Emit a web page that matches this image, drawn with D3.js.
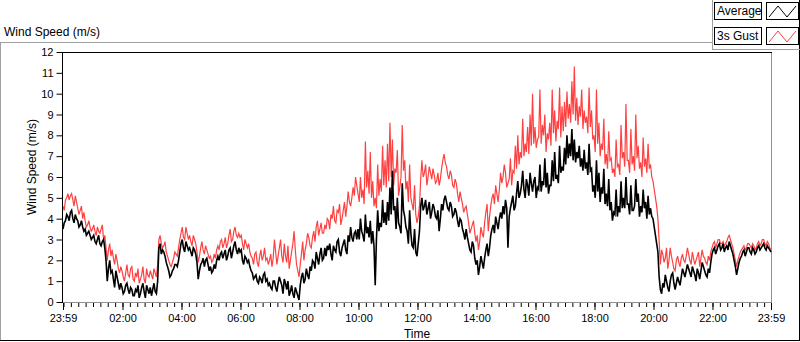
<!DOCTYPE html>
<html><head><meta charset="utf-8">
<script src="https://cdn.jsdelivr.net/npm/d3@7"></script>
<style>
html,body{margin:0;padding:0;background:#fff;}
svg text{font-family:"Liberation Sans",Arial,sans-serif;fill:#000;}
</style></head>
<body><svg id="chart" width="800" height="342"></svg>
<script>
// ---- data (2.5-minute samples starting 23:59, one row per hour) ----
const sampleStepMinutes = 2.5;
const averageSpeed = [
3.5,3.8,3.9,4.2,4.1,3.9,4.3,4.4,4.0,3.8,4.2,4.0,3.9,3.6,3.7,3.9,3.6,3.4,3.5,3.2,3.3,3.4,3.2,3.0,
3.1,3.2,2.9,2.8,3.0,3.2,2.8,2.7,2.9,3.0,2.6,2.0,1.0,1.6,2.0,1.4,1.5,1.1,0.7,1.5,1.2,0.9,0.6,0.9,
0.7,0.4,0.5,0.8,0.9,0.6,0.4,0.7,0.6,0.3,0.3,0.6,0.5,0.8,0.2,0.4,0.7,0.9,0.5,0.2,0.8,0.6,0.4,0.7,
0.3,0.6,0.9,0.5,0.4,1.0,2.6,2.8,2.3,2.5,2.4,2.2,1.9,1.7,1.5,1.2,1.3,1.5,1.6,1.8,1.8,1.7,2.0,2.4,
2.8,3.0,2.6,2.4,2.9,2.7,2.5,2.6,2.4,2.2,2.6,2.5,2.3,1.9,1.1,1.5,1.8,1.9,2.1,1.7,2.0,2.1,1.8,1.5,
1.7,1.4,1.5,1.8,1.6,2.0,2.2,2.0,2.3,2.4,2.1,2.3,2.5,2.0,2.2,2.5,2.6,2.1,2.4,2.7,2.9,2.5,2.3,2.6,
2.4,2.5,2.0,1.8,2.2,2.1,1.9,2.0,1.7,1.5,1.4,1.1,1.2,1.3,1.0,0.9,1.2,1.1,0.9,1.3,1.4,1.0,1.1,0.8,
0.9,0.7,0.6,1.0,1.0,0.7,0.5,0.9,1.2,1.0,0.8,0.4,1.1,0.9,0.6,1.0,0.3,0.5,0.8,0.4,0.2,0.7,0.5,0.3,
0.1,0.8,1.2,1.4,0.9,1.1,1.6,1.3,1.1,1.7,1.5,2.0,1.9,1.6,2.4,2.1,1.8,2.3,2.6,2.0,2.1,2.6,2.2,2.7,
2.5,2.8,2.3,2.0,2.7,2.5,2.4,2.9,3.0,2.4,2.2,2.6,2.8,3.0,2.5,2.3,3.2,2.9,3.6,3.1,2.9,3.3,3.4,3.0,
3.5,3.0,4.0,3.4,3.2,2.9,4.2,3.3,3.6,3.1,3.9,2.8,3.4,2.7,0.8,3.0,4.4,3.4,3.8,3.6,4.9,3.8,4.3,3.7,
4.8,3.9,5.5,4.2,6.3,4.4,4.6,3.5,5.0,3.8,3.6,3.3,5.7,4.4,4.1,3.6,3.4,2.8,4.4,3.3,2.7,2.6,3.5,2.4,
2.2,2.8,3.4,4.6,5.0,4.4,4.6,4.9,4.2,4.5,4.8,4.0,4.3,4.7,4.5,4.1,4.0,4.4,3.4,4.0,4.7,4.4,4.9,5.1,
4.8,4.5,4.4,4.8,4.6,4.1,4.2,4.5,4.3,3.9,3.6,4.0,3.9,3.5,3.3,3.0,3.5,3.1,2.8,2.5,2.4,2.9,2.7,2.1,
1.8,2.0,1.3,1.7,2.2,1.9,1.6,2.1,2.5,2.8,2.2,2.6,3.2,3.5,3.7,3.3,4.1,3.8,3.5,4.0,4.3,4.0,4.6,4.2,
4.9,4.5,2.6,4.1,4.5,4.8,5.1,4.4,4.6,5.2,5.8,5.0,5.2,5.6,6.3,5.4,5.0,5.9,5.6,5.1,6.2,5.7,5.3,5.8,
6.0,5.0,5.5,5.4,6.6,5.3,5.8,5.6,6.9,5.5,6.2,5.2,5.6,5.6,6.8,5.8,7.2,5.9,6.1,5.7,7.5,6.2,6.5,6.3,
7.4,6.6,8.0,6.9,7.6,7.0,8.3,6.8,7.8,6.7,7.2,6.9,7.5,6.5,6.9,6.3,7.3,6.4,6.7,6.1,7.6,6.3,6.4,5.3,
5.6,5.0,6.8,5.3,6.2,4.8,5.5,5.2,6.4,4.7,5.2,4.6,5.9,4.4,4.8,3.9,4.3,4.2,5.4,4.1,4.6,4.3,5.8,4.5,
5.0,4.5,6.0,4.7,4.7,4.2,5.6,4.4,4.4,4.6,5.9,4.8,5.2,4.1,4.6,4.3,5.4,4.5,4.8,4.0,5.1,4.2,4.5,4.1,
4.0,3.6,3.2,2.8,2.4,1.2,0.6,0.4,0.9,0.7,1.3,1.0,0.7,0.5,1.0,1.3,1.4,0.9,0.6,0.9,1.2,1.0,0.8,1.2,
1.6,1.4,1.2,1.5,1.8,1.6,1.4,1.2,1.7,1.5,1.3,1.0,1.6,1.4,1.1,1.5,1.9,1.7,1.5,1.3,1.2,1.6,1.4,1.9,
2.3,2.5,2.6,2.3,2.5,2.7,2.8,2.5,2.6,2.8,2.4,2.6,2.7,2.5,2.9,2.7,2.5,2.3,2.0,1.7,1.3,1.6,1.9,2.1,
2.2,2.4,2.5,2.2,2.4,2.6,2.6,2.4,2.3,2.6,2.5,2.3,2.4,2.6,2.7,2.5,2.6,2.7,2.8,2.6,2.5,2.7,2.6,2.5,
2.4];
const gustSpeed = [
4.6,4.4,4.9,5.0,5.2,4.9,5.1,5.2,4.9,4.6,5.1,4.8,4.5,4.2,4.4,4.6,4.0,4.3,3.9,3.6,3.7,3.9,3.6,3.4,
3.5,3.7,3.4,3.2,3.6,3.4,3.3,3.5,3.7,3.0,3.2,2.6,2.0,2.5,2.8,2.2,2.5,2.1,1.8,2.3,2.0,1.6,1.4,1.7,
1.5,1.2,1.0,1.4,1.8,1.3,1.2,1.6,1.7,1.1,1.0,1.4,1.2,1.6,0.9,1.1,1.3,1.7,1.1,0.9,1.6,1.3,1.2,1.5,
1.3,1.1,1.6,1.4,1.2,1.8,3.0,3.2,2.8,2.6,2.7,2.9,2.4,2.2,2.0,1.8,1.7,1.9,2.1,2.4,2.3,2.2,2.6,3.0,
3.3,3.6,3.1,3.0,3.6,3.3,3.0,3.2,2.9,2.7,3.2,3.0,2.8,2.4,1.9,2.2,2.6,2.9,2.5,2.3,2.7,2.5,2.3,2.1,
2.2,1.9,2.0,2.3,2.1,2.5,2.7,2.5,2.9,3.0,2.6,2.8,3.1,2.6,2.8,3.2,3.5,2.9,3.0,3.4,3.6,3.2,3.1,3.3,
3.1,3.2,2.8,2.5,3.0,2.8,2.6,2.8,2.4,2.2,2.1,1.8,2.3,2.4,1.9,1.7,2.2,2.5,2.0,2.2,2.6,2.0,2.1,1.8,
2.0,2.3,1.7,2.1,3.0,2.4,1.8,2.2,2.6,3.0,2.2,1.9,2.8,2.2,1.9,2.7,1.6,2.0,2.4,2.8,3.4,2.5,1.8,1.5,
1.2,1.8,2.3,2.9,2.0,2.5,2.8,3.3,3.1,2.7,2.6,3.1,3.4,2.9,3.6,3.9,3.2,3.5,3.8,3.3,3.3,3.7,3.5,4.0,
3.9,3.5,4.2,4.0,4.6,3.9,3.8,4.4,4.3,4.7,3.7,4.0,4.4,4.8,4.1,4.6,5.3,4.8,4.6,5.0,5.5,5.1,6.0,5.6,
5.2,4.8,6.0,5.0,5.4,4.7,7.7,5.5,6.3,5.2,7.2,5.0,5.8,4.6,5.0,4.5,6.6,5.1,5.9,5.3,7.5,5.6,6.8,5.5,
7.6,5.8,8.6,6.0,7.8,5.6,6.4,6.2,7.3,5.1,5.5,6.0,8.5,6.3,6.8,5.4,5.8,4.8,6.6,5.0,4.7,4.4,5.6,4.2,
3.8,4.1,4.6,5.9,6.8,6.0,6.2,6.6,5.6,6.0,6.5,6.2,5.9,6.4,6.1,5.7,5.8,6.2,5.6,5.9,6.4,6.8,7.1,6.7,
6.5,6.1,5.9,6.3,6.1,5.6,5.5,5.9,5.7,5.2,4.8,5.3,5.0,4.7,4.3,4.5,4.6,4.2,3.8,3.3,3.5,3.7,3.9,3.3,
2.9,3.2,2.5,2.9,3.6,3.3,3.1,3.8,4.3,4.7,3.4,4.1,4.6,5.0,5.2,4.7,5.6,5.2,4.8,5.4,6.2,5.7,6.0,6.6,
6.2,5.5,5.7,5.9,6.9,5.6,6.3,6.2,7.5,6.4,8.0,6.6,7.2,6.9,8.8,7.0,7.6,7.2,8.4,7.1,9.0,7.5,10.0,7.6,
8.4,7.4,7.8,7.9,10.2,7.6,8.5,8.0,9.0,7.2,8.1,7.8,8.6,7.5,10.2,8.1,9.2,7.7,8.7,8.3,10.3,7.9,9.4,8.2,
9.6,8.4,10.1,8.8,9.5,8.6,10.6,9.0,11.3,8.7,9.8,8.5,9.4,8.9,10.2,8.3,9.2,8.6,8.9,8.1,10.3,8.4,9.2,7.8,
8.0,7.2,10.2,7.6,8.6,7.0,7.6,7.3,8.8,6.6,7.1,6.4,8.2,6.8,6.9,6.2,6.4,6.0,7.8,6.5,6.6,6.1,8.5,6.9,
7.2,6.5,9.5,6.8,6.8,6.2,8.3,6.6,7.0,6.3,9.0,6.9,7.5,6.4,6.7,6.0,7.9,6.5,6.9,6.2,7.6,6.4,6.6,6.0,
5.8,5.4,5.0,4.6,4.0,2.9,1.8,2.5,2.3,1.9,2.1,2.6,1.6,2.0,2.6,2.2,1.9,1.6,1.5,2.0,2.2,1.9,1.7,2.1,
2.3,2.0,1.9,2.2,2.6,2.3,2.0,1.8,2.4,2.1,1.8,2.0,2.2,2.4,1.7,2.1,2.5,2.2,2.1,1.9,1.8,2.2,2.0,2.4,
2.6,2.8,2.9,2.6,2.8,3.0,3.0,2.8,2.8,2.9,2.7,2.8,2.9,3.1,3.2,3.0,2.8,2.6,2.3,2.0,1.7,2.0,2.2,2.4,
2.5,2.6,2.7,2.5,2.6,2.8,2.8,2.7,2.6,2.8,2.7,2.5,2.6,2.8,2.9,2.7,2.8,3.0,3.0,2.8,2.7,2.9,2.8,2.6,
2.5];
const seriesNames = ["Average", "3s Gust"];
const seriesColors = ["#000000", "#ff4040"];
const xTickLabels = ["23:59","02:00","04:00","06:00","08:00","10:00","12:00","14:00","16:00","18:00","20:00","22:00","23:59"];
const yTickValues = [0,1,2,3,4,5,6,7,8,9,10,11,12];
const chartTitle = "Wind Speed (m/s)";
const yAxisTitle = "Wind Speed (m/s)";
const xAxisTitle = "Time";

// ---- layout ----
const svg = d3.select("#chart");
const plot = {left: 63, right: 771, top: 52, bottom: 302};
const t0 = new Date(2000, 0, 1, 23, 59);
const t1 = new Date(2000, 0, 2, 23, 59);
const x = d3.scaleTime().domain([t0, t1]).range([plot.left, plot.right]);
const y = d3.scaleLinear().domain([0, 12]).range([plot.bottom, plot.top]);
const timeAt = i => new Date(t0.getTime() + i * sampleStepMinutes * 60000);

function parseTick(lbl, i) {
  if (i === 0) return t0;
  if (i === xTickLabels.length - 1) return t1;
  const [h, m] = lbl.split(":").map(Number);
  return new Date(2000, 0, 2, h, m);
}
const xTickDates = xTickLabels.map(parseTick);

// outer frame
svg.append("line").attr("x1",0).attr("x2",712).attr("y1",42.5).attr("y2",42.5).attr("stroke","#a0a0a0");
svg.append("line").attr("x1",0.5).attr("x2",0.5).attr("y1",42).attr("y2",341).attr("stroke","#a0a0a0");
svg.append("line").attr("x1",0).attr("x2",800).attr("y1",340.5).attr("y2",340.5).attr("stroke","#000");
svg.append("line").attr("x1",799.5).attr("x2",799.5).attr("y1",0).attr("y2",341).attr("stroke","#000");

// title
svg.append("text").attr("x",4).attr("y",36).attr("font-size","12px").text(chartTitle);

// plot background and border
svg.append("rect").attr("x",plot.left).attr("y",plot.top).attr("width",plot.right-plot.left).attr("height",plot.bottom-plot.top).attr("fill","#fff");
svg.append("line").attr("x1",plot.right+0.5).attr("x2",plot.right+0.5).attr("y1",plot.top).attr("y2",plot.bottom+1).attr("stroke","#909090");
svg.append("line").attr("x1",plot.left).attr("x2",plot.right+1).attr("y1",plot.bottom+0.5).attr("y2",plot.bottom+0.5).attr("stroke","#909090");
svg.append("line").attr("x1",plot.left).attr("x2",plot.right+1).attr("y1",plot.top+0.5).attr("y2",plot.top+0.5).attr("stroke","#000");

// lines
svg.append("clipPath").attr("id","clip").append("rect")
  .attr("x",plot.left).attr("y",plot.top).attr("width",plot.right-plot.left+1).attr("height",plot.bottom-plot.top);
const lineGen = d3.line().x((d,i)=>x(timeAt(i))).y(d=>y(d));
const g = svg.append("g").attr("clip-path","url(#clip)");
g.append("path").datum(gustSpeed).attr("d",lineGen).attr("fill","none").attr("stroke",seriesColors[1]).attr("stroke-width",1.2).attr("stroke-linejoin","miter");
g.append("path").datum(averageSpeed).attr("d",lineGen).attr("fill","none").attr("stroke",seriesColors[0]).attr("stroke-width",1.6).attr("stroke-linejoin","miter");

// y axis
const yAxis = d3.axisLeft(y).tickValues(yTickValues).tickSize(6).tickPadding(3);
const gy = svg.append("g").attr("transform",`translate(${plot.left-0.5},0)`).call(yAxis);
gy.select(".domain").attr("stroke","#000").attr("d",`M0,${plot.top}V${plot.bottom+1}`);
gy.selectAll(".tick line").attr("stroke","#000");
gy.selectAll(".tick text").attr("font-size","11px").attr("font-family","Liberation Sans, Arial, sans-serif").attr("fill","#000");

// x axis major
const xAxis = d3.axisBottom(x).tickValues(xTickDates).tickFormat((d,i)=>xTickLabels[i]).tickSize(7).tickPadding(4);
const gx = svg.append("g").attr("transform",`translate(0,${plot.bottom+1})`).call(xAxis);
gx.select(".domain").remove();
gx.selectAll(".tick line").attr("stroke","#000");
gx.selectAll(".tick text").attr("font-size","11px").attr("font-family","Liberation Sans, Arial, sans-serif").attr("fill","#000");
// x axis minor
const minorTicks = d3.timeMinute.every(15).range(new Date(2000,0,2,0,0), t1);
const xMinor = d3.axisBottom(x).tickValues(minorTicks).tickSize(4).tickFormat("");
const gxm = svg.append("g").attr("transform",`translate(0,${plot.bottom+1})`).call(xMinor);
gxm.select(".domain").remove();
gxm.selectAll(".tick line").attr("stroke","#000");

// axis titles
svg.append("text").attr("transform",`translate(36,167) rotate(-90)`).attr("text-anchor","middle").attr("font-size","12px").text(yAxisTitle);
svg.append("text").attr("x",(plot.left+plot.right)/2).attr("y",338).attr("text-anchor","middle").attr("font-size","12px").text(xAxisTitle);

// legend
const lg = svg.append("g");
lg.append("line").attr("x1",712.5).attr("x2",712.5).attr("y1",0).attr("y2",49).attr("stroke","#a0a0a0");
lg.append("line").attr("x1",712).attr("x2",800).attr("y1",49.5).attr("y2",49.5).attr("stroke","#a0a0a0");
seriesNames.forEach((name, i) => {
  const top = 2 + i*25;
  lg.append("rect").attr("x",714.5).attr("y",top+0.5).attr("width",47).attr("height",17).attr("fill","#fff").attr("stroke","#000");
  lg.append("text").attr("x",717).attr("y",top+13).attr("font-size","12px").text(name);
  lg.append("rect").attr("x",766.5).attr("y",top+0.5).attr("width",32).attr("height",17).attr("fill","#fff").attr("stroke","#000");
  const pts = [[769,top+15],[778,top+4],[787,top+15],[796,top+4]];
  lg.append("path").attr("d",d3.line()(pts)).attr("fill","none").attr("stroke",seriesColors[i]).attr("stroke-width",1);
});
</script></body></html>
